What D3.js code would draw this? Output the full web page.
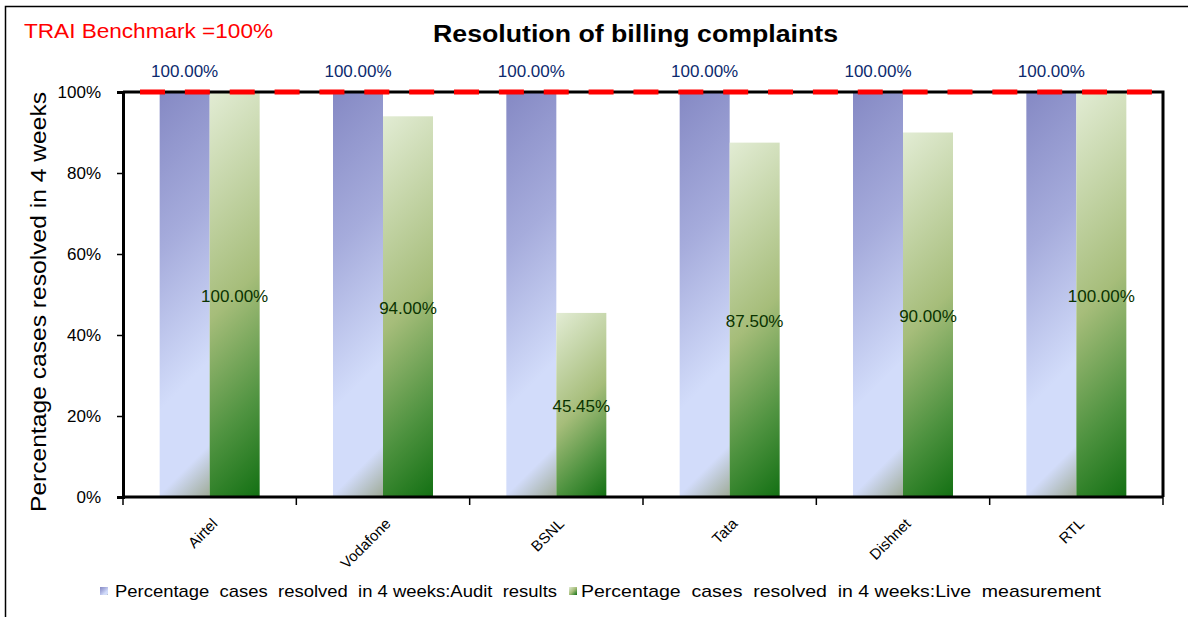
<!DOCTYPE html>
<html><head><meta charset="utf-8">
<script src="https://cdn.jsdelivr.net/npm/d3@7/dist/d3.min.js"></script>
<style>body{margin:0;background:#fff}svg{display:block}text{font-family:"Liberation Sans",Arial,sans-serif}</style>
</head><body><svg id="c" width="1188" height="617"></svg>
<script>
const categories = ["Airtel","Vodafone","BSNL","Tata","Dishnet","RTL"];
const auditValues = [100, 100, 100, 100, 100, 100];
const liveValues = [100, 94, 45.45, 87.5, 90, 100];
const seriesNames = ["Percentage  cases  resolved  in 4 weeks:Audit  results","Percentage  cases  resolved  in 4 weeks:Live  measurement"];
const yTicks = [0,20,40,60,80,100];
const benchmark = 100;

const svg = d3.select("#c");
const m = {left:123, right:1163, top:92, bottom:497};
const x = d3.scaleBand().domain(categories).range([m.left, m.right]).paddingInner(0.4231).paddingOuter(0.2115);
const xs = d3.scaleBand().domain([0,1]).range([0, x.bandwidth()]);
const y = d3.scaleLinear().domain([0,100]).range([m.bottom, m.top]);
const defs = svg.append("defs");

svg.append("rect").attr("x",5.5).attr("y",6.5).attr("width",1190).attr("height",620).attr("fill","none").attr("stroke","#000").attr("stroke-width",1.5);

function grad(id, x0, y0, w, h, stops){
  const L=(w+h)/2;
  const g=defs.append("linearGradient").attr("id",id).attr("gradientUnits","userSpaceOnUse")
    .attr("x1",x0).attr("y1",y0).attr("x2",x0+L).attr("y2",y0+L);
  stops.forEach(s=>g.append("stop").attr("offset",s[0]).attr("stop-color",s[1]));
}
const blueStops=[[0,"#8589c4"],[0.35,"#a6acdc"],[0.7,"#d2dcfa"],[0.885,"#d2dcfa"],[1,"#9eaa96"]];
const greenStops=[[0,"#e2ecd4"],[0.5,"#a6bd7a"],[0.78,"#4f9340"],[1,"#137013"]];

const rows = categories.map((c,i)=>({c, a:auditValues[i], l:liveValues[i]}));
rows.forEach((d,i)=>{
  const bx=x(d.c)+xs(0), w=xs.bandwidth();
  grad("gb"+i,bx,y(d.a),w,y(0)-y(d.a),blueStops);
  svg.append("rect").attr("x",bx).attr("y",y(d.a)).attr("width",w).attr("height",y(0)-y(d.a)).attr("fill",`url(#gb${i})`);
  const gx=x(d.c)+xs(1);
  grad("gg"+i,gx,y(d.l),w,y(0)-y(d.l),greenStops);
  svg.append("rect").attr("x",gx).attr("y",y(d.l)).attr("width",w).attr("height",y(0)-y(d.l)).attr("fill",`url(#gg${i})`);
});

// plot frame
svg.append("path").attr("d",`M${m.left},${m.top}H${m.right}V${m.bottom}`).attr("fill","none").attr("stroke","#000").attr("stroke-width",3);
// axes
const ya = svg.append("g").attr("transform",`translate(${m.left},0)`).call(d3.axisLeft(y).tickValues(yTicks).tickSize(6).tickFormat(d=>d+"%"));
ya.select(".domain").attr("stroke-width",3);
ya.selectAll(".tick line").attr("stroke-width",1.5);
ya.selectAll("text").attr("font-size",17).attr("x",-22).attr("fill","#000");

const xa = svg.append("g").attr("transform",`translate(0,${m.bottom})`);
xa.append("line").attr("x1",m.left).attr("x2",m.right).attr("stroke","#000").attr("stroke-width",3);
const bounds = categories.map(c=>x(c)-x.step()*x.paddingInner()/2).concat([m.right]);
bounds[0]=m.left;
xa.selectAll("line.t").data(bounds).join("line").attr("class","t").attr("x1",d=>d).attr("x2",d=>d).attr("y1",0).attr("y2",8).attr("stroke","#000").attr("stroke-width",1.5);
xa.selectAll("text").data(categories).join("text")
  .attr("transform",d=>`translate(${x(d)+x.bandwidth()/2+5},24) rotate(-45)`)
  .attr("text-anchor","end").attr("dy","0.35em").attr("font-size",15).text(d=>d);

// benchmark
svg.append("line").attr("x1",140).attr("x2",1163).attr("y1",y(benchmark)).attr("y2",y(benchmark))
  .attr("stroke","#ff0000").attr("stroke-width",5).attr("stroke-dasharray","25,19.86");

// labels
rows.forEach(d=>{
  svg.append("text").attr("x",x(d.c)+xs(0)+xs.bandwidth()/2).attr("y",y(d.a)-15).attr("text-anchor","middle")
    .attr("font-size",17).attr("fill","#0c2a6e").text(d.a.toFixed(2)+"%");
  svg.append("text").attr("x",x(d.c)+xs(1)+xs.bandwidth()/2).attr("y",(y(d.l)+y(0))/2+7).attr("text-anchor","middle")
    .attr("font-size",17).attr("fill","#0a3300").text(d.l.toFixed(2)+"%");
});

// titles
svg.append("text").attr("x",433).attr("y",42).attr("font-size",23).attr("font-weight","bold")
  .attr("textLength",405).attr("lengthAdjust","spacingAndGlyphs").text("Resolution of billing complaints");
svg.append("text").attr("x",24).attr("y",38).attr("font-size",20).attr("fill","#ff0000")
  .attr("textLength",249).attr("lengthAdjust","spacingAndGlyphs").text("TRAI Benchmark =100%");
svg.append("text").attr("transform","translate(46,512) rotate(-90)").attr("font-size",22)
  .attr("textLength",420).attr("lengthAdjust","spacingAndGlyphs").text("Percentage cases resolved in 4 weeks");

// legend
const lg=[{x:100,tx:115,t:seriesNames[0],s:blueStops,id:"lb",w:442},{x:569,tx:581,t:seriesNames[1],s:greenStops,id:"lgn",w:520}];
lg.forEach(l=>{
  grad(l.id,l.x,587,8,8,l.s);
  svg.append("rect").attr("x",l.x).attr("y",587).attr("width",8).attr("height",8).attr("fill",`url(#${l.id})`);
  svg.append("text").attr("x",l.tx).attr("y",597).attr("font-size",17).attr("xml:space","preserve").style("white-space","pre")
    .attr("textLength",l.w).attr("lengthAdjust","spacingAndGlyphs").text(l.t);
});
</script></body></html>
